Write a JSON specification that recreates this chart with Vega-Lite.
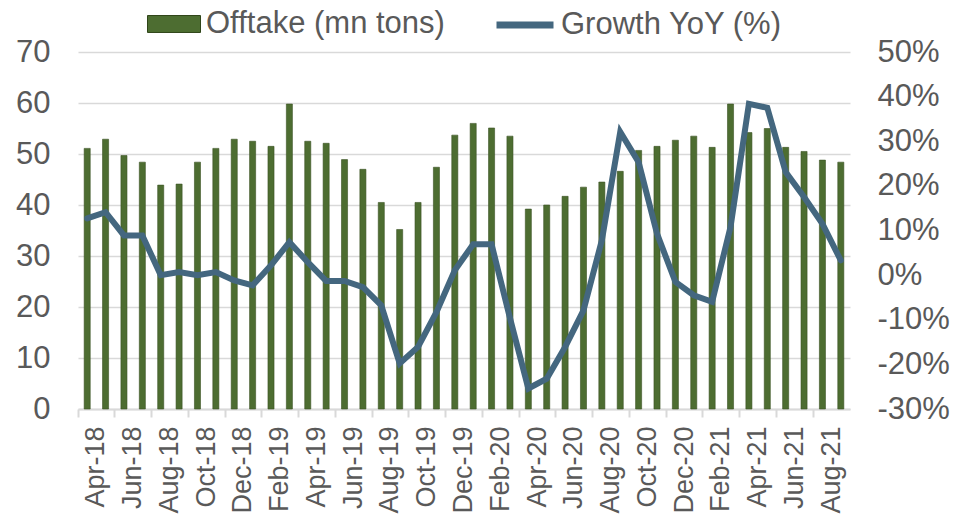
{
  "$schema": "https://vega.github.io/schema/vega-lite/v6.json",
  "width": 772,
  "height": 357,
  "autosize": {"type": "none"},
  "padding": {"left": 78, "top": 52, "right": 105, "bottom": 110},
  "background": "white",
  "config": {
    "view": {"stroke": null},
    "font": "Liberation Sans",
    "axis": {"labelFont": "Liberation Sans", "labelColor": "#595959"},
    "legend": {"labelFont": "Liberation Sans", "labelColor": "#595959", "labelLimit": 500}
  },
  "data": {
    "values": [
      {"month": "Apr-18", "offtake": 51.1, "growth": 0.127},
      {"month": "May-18", "offtake": 52.9, "growth": 0.141},
      {"month": "Jun-18", "offtake": 49.7, "growth": 0.089},
      {"month": "Jul-18", "offtake": 48.4, "growth": 0.089},
      {"month": "Aug-18", "offtake": 43.9, "growth": 0.0},
      {"month": "Sep-18", "offtake": 44.1, "growth": 0.007},
      {"month": "Oct-18", "offtake": 48.4, "growth": 0.0},
      {"month": "Nov-18", "offtake": 51.1, "growth": 0.007},
      {"month": "Dec-18", "offtake": 52.9, "growth": -0.012},
      {"month": "Jan-19", "offtake": 52.5, "growth": -0.023},
      {"month": "Feb-19", "offtake": 51.5, "growth": 0.022},
      {"month": "Mar-19", "offtake": 59.8, "growth": 0.074},
      {"month": "Apr-19", "offtake": 52.5, "growth": 0.029},
      {"month": "May-19", "offtake": 52.1, "growth": -0.013},
      {"month": "Jun-19", "offtake": 48.9, "growth": -0.013},
      {"month": "Jul-19", "offtake": 47.0, "growth": -0.027},
      {"month": "Aug-19", "offtake": 40.5, "growth": -0.068},
      {"month": "Sep-19", "offtake": 35.2, "growth": -0.198},
      {"month": "Oct-19", "offtake": 40.5, "growth": -0.161},
      {"month": "Nov-19", "offtake": 47.4, "growth": -0.083},
      {"month": "Dec-19", "offtake": 53.7, "growth": 0.011},
      {"month": "Jan-20", "offtake": 56.0, "growth": 0.069},
      {"month": "Feb-20", "offtake": 55.1, "growth": 0.069},
      {"month": "Mar-20", "offtake": 53.5, "growth": -0.096},
      {"month": "Apr-20", "offtake": 39.2, "growth": -0.254},
      {"month": "May-20", "offtake": 40.0, "growth": -0.232},
      {"month": "Jun-20", "offtake": 41.7, "growth": -0.161},
      {"month": "Jul-20", "offtake": 43.5, "growth": -0.079},
      {"month": "Aug-20", "offtake": 44.5, "growth": 0.078},
      {"month": "Sep-20", "offtake": 46.6, "growth": 0.321},
      {"month": "Oct-20", "offtake": 50.7, "growth": 0.253},
      {"month": "Nov-20", "offtake": 51.5, "growth": 0.093},
      {"month": "Dec-20", "offtake": 52.7, "growth": -0.015},
      {"month": "Jan-21", "offtake": 53.5, "growth": -0.045},
      {"month": "Feb-21", "offtake": 51.3, "growth": -0.06},
      {"month": "Mar-21", "offtake": 59.8, "growth": 0.108},
      {"month": "Apr-21", "offtake": 54.2, "growth": 0.384},
      {"month": "May-21", "offtake": 55.0, "growth": 0.375},
      {"month": "Jun-21", "offtake": 51.3, "growth": 0.231},
      {"month": "Jul-21", "offtake": 50.5, "growth": 0.175},
      {"month": "Aug-21", "offtake": 48.8, "growth": 0.115},
      {"month": "Sep-21", "offtake": 48.4, "growth": 0.033}
    ]
  },
  "encoding": {
    "x": {
      "field": "month",
      "type": "nominal",
      "sort": null,
      "scale": {"paddingInner": 0, "paddingOuter": 0},
      "axis": {
        "title": null,
        "values": ["Apr-18", "Jun-18", "Aug-18", "Oct-18", "Dec-18", "Feb-19", "Apr-19", "Jun-19", "Aug-19", "Oct-19", "Dec-19", "Feb-20", "Apr-20", "Jun-20", "Aug-20", "Oct-20", "Dec-20", "Feb-21", "Apr-21", "Jun-21", "Aug-21"],
        "bandPosition": 0,
        "labelOffset": 9.2,
        "labelAngle": -90,
        "labelFontSize": 27,
        "labelPadding": 9,
        "tickSize": 8,
        "tickColor": "#d9d9d9",
        "tickWidth": 2,
        "domainColor": "#d9d9d9",
        "domainWidth": 2,
        "grid": false
      }
    }
  },
  "layer": [
    {
      "mark": {"type": "bar", "width": {"band": 0.33}, "stroke": "#3a5323", "strokeWidth": 0.6},
      "encoding": {
        "y": {
          "field": "offtake",
          "type": "quantitative",
          "scale": {"domain": [0, 70]},
          "axis": {
            "title": null,
            "values": [0, 10, 20, 30, 40, 50, 60, 70],
            "labelFontSize": 31,
            "ticks": false,
            "tickSize": 0,
            "domain": false,
            "labelPadding": 28,
            "gridColor": "#d9d9d9",
            "gridWidth": 1.5
          }
        },
        "fill": {
          "datum": "Offtake (mn tons)",
          "scale": {"range": ["#4d6d31"]},
          "legend": {
            "orient": "none",
            "legendX": 69,
            "legendY": -55,
            "title": null,
            "symbolType": "M-1,-0.32H1V0.32H-1Z",
            "symbolSize": 2809,
            "symbolStrokeColor": "#2f4519",
            "symbolStrokeWidth": 1,
            "labelFontSize": 31,
            "labelOffset": 5
          }
        }
      }
    },
    {
      "mark": {"type": "line", "strokeWidth": 6, "strokeCap": "round"},
      "encoding": {
        "y": {
          "field": "growth",
          "type": "quantitative",
          "scale": {"domain": [-0.3, 0.5]},
          "axis": {
            "title": null,
            "orient": "right",
            "values": [-0.3, -0.2, -0.1, 0, 0.1, 0.2, 0.3, 0.4, 0.5],
            "labelExpr": "replace(format(datum.value, '.0%'), '\u2212', '-')",
            "labelFontSize": 31,
            "ticks": false,
            "tickSize": 0,
            "domain": false,
            "grid": false,
            "labelPadding": 27
          }
        },
        "stroke": {
          "datum": "Growth YoY (%)",
          "scale": {"range": ["#44677f"]},
          "legend": {
            "orient": "none",
            "legendX": 415,
            "legendY": -59,
            "title": null,
            "symbolType": "stroke",
            "symbolSize": 3249,
            "symbolStrokeWidth": 7,
            "labelFontSize": 31,
            "labelOffset": 4
          }
        }
      }
    }
  ],
  "resolve": {"scale": {"y": "independent", "fill": "independent", "stroke": "independent"}}
}
